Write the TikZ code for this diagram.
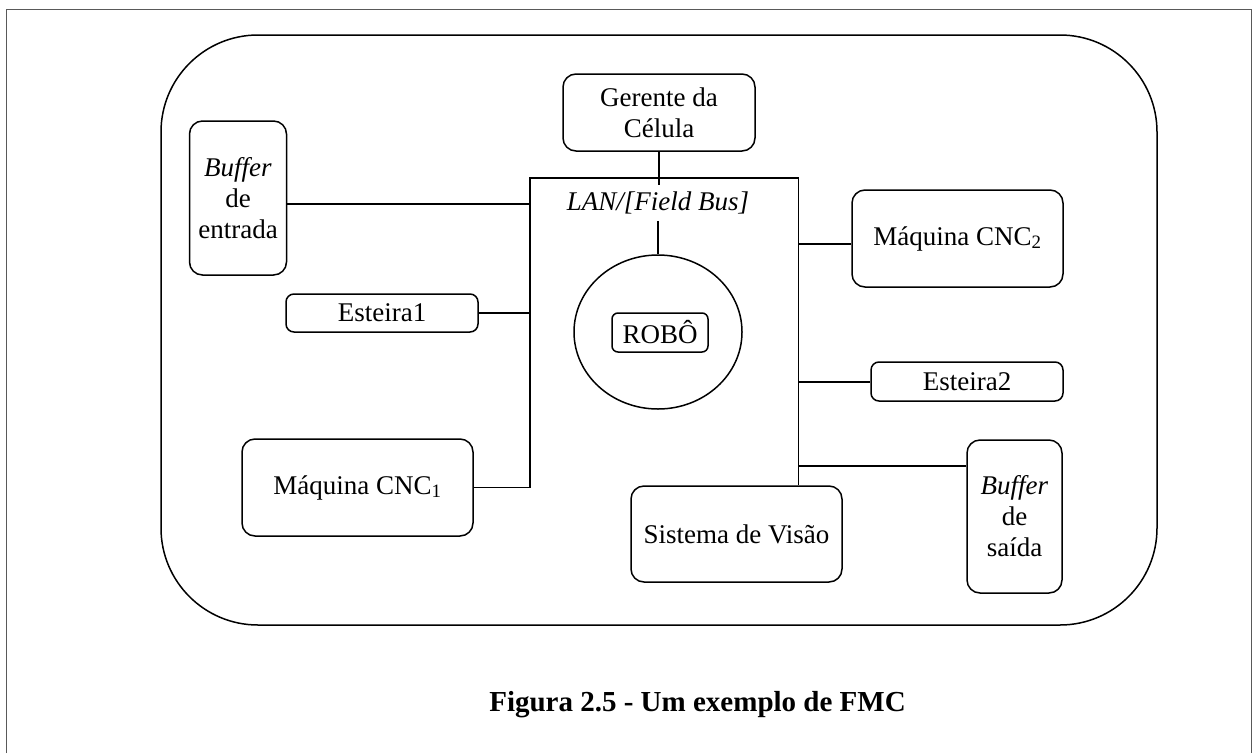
\documentclass[tikz,border=0pt]{standalone}
\usepackage{fontspec}
\setmainfont{Liberation Serif}
\usetikzlibrary{shapes.geometric}

\begin{document}
\begin{tikzpicture}[x=1pt,y=-1pt,
  line width=1.5pt,
  txt/.style={font=\fontsize{27}{31}\selectfont, align=center, inner sep=0pt},
  unit/.style={txt, draw, rounded corners=13pt},
  strip/.style={txt, draw, rounded corners=8pt},
  framed/.style={draw=black!65, line width=1pt}]

\useasboundingbox (0,0) rectangle (1258,753);

% page frame, open at the bottom
\draw[framed] (6.5,753) -- (6.5,9.5) -- (1251.5,9.5) -- (1251.5,753);

% the manufacturing cell
\draw[rounded corners=97pt] (161,35) rectangle (1157,625);

% cell components
\node[unit, minimum width=192, minimum height=77] (ger) at (659,112.5) {Gerente da\\Célula};
\node[unit, minimum width=97, minimum height=154] (bufin) at (238,198) {\textit{Buffer}\\de\\entrada};
\node[unit, minimum width=211, minimum height=97] (cnc2) at (957.5,238.5) {Máquina CNC\textsubscript{2}};
\node[strip, minimum width=192, minimum height=38] (est1) at (382,313) {Esteira1};
\node[strip, minimum width=192, minimum height=39] (est2) at (967,381.5) {Esteira2};
\node[unit, minimum width=231, minimum height=97] (cnc1) at (357.5,487.5) {Máquina CNC\textsubscript{1}};
\node[unit, minimum width=211, minimum height=96] (visao) at (736.5,534) {Sistema de Visão};
\node[unit, minimum width=95, minimum height=153] (bufout) at (1014.5,516.5) {\textit{Buffer}\\de\\saída};

% robot
\node[draw, ellipse, minimum width=168, minimum height=154, inner sep=0pt] (cell) at (658,332) {};
\node[strip, rounded corners=6pt, minimum width=96, minimum height=39] (robo) at (660,332.5) {ROBÔ};

% network label
\node[txt, inner sep=6pt] (lan) at (658,203) {\textit{LAN/[Field Bus]}};

% bus corners and taps
\coordinate (busL) at (530,178);
\coordinate (busR) at (798.5,178);
\coordinate (tapA) at (530,204);
\coordinate (tapB) at (530,313);
\coordinate (tapC) at (798.5,244);
\coordinate (tapD) at (798.5,382);
\coordinate (tapE) at (798.5,466);

% bus
\draw (cnc1.east) -| (busL) -- (busR) -- (busR |- visao.north);

% connectors
\draw (ger.south) -- (ger.south |- lan.north);
\draw (cell.north |- lan.south) -- (cell.north);
\draw (tapA -| bufin.east) -- (tapA);
\draw (est1.east) -- (tapB);
\draw (tapC) -- (tapC -| cnc2.west);
\draw (tapD) -- (tapD -| est2.west);
\draw (tapE) -- (tapE -| bufout.west);

% caption
\node[font=\bfseries\fontsize{29}{34}\selectfont, anchor=base, inner sep=0pt] (cap) at (697.5,711) {Figura 2.5 - Um exemplo de FMC};

\end{tikzpicture}
\end{document}
